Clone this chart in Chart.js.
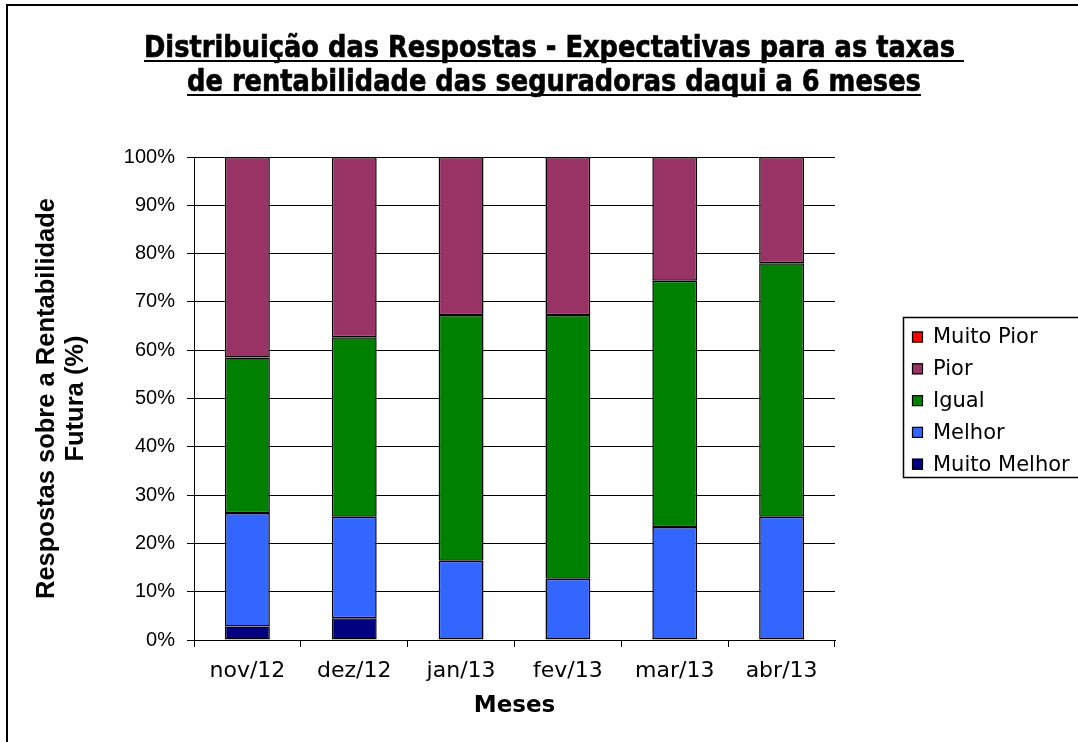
<!DOCTYPE html>
<html lang="pt">
<head>
<meta charset="UTF-8">
<title>Expectativas de rentabilidade</title>
<script src="https://cdn.jsdelivr.net/npm/chart.js"></script>
<style>
    body { margin: 0; background: #fff; }
    #grafico { display: block; }
</style>
</head>
<body>
<canvas id="grafico" width="1078" height="742"></canvas>
<script>
    // dados (% das respostas)
    var meses = ['nov/12', 'dez/12', 'jan/13', 'fev/13', 'mar/13', 'abr/13'];
    var muitoMelhor = [2.8, 4.5, 0, 0, 0, 0];
    var melhor = [23.5, 21.0, 16.4, 12.7, 23.4, 25.5];
    var igual = [32.2, 37.2, 50.9, 54.6, 51.0, 52.5];
    var pior = [41.5, 37.3, 32.7, 32.7, 25.6, 22.0];
    var muitoPior = [0, 0, 0, 0, 0, 0];

    var titulo = ['Distribuição das Respostas - Expectativas para as taxas ',
                  'de rentabilidade das seguradoras daqui a 6 meses'];
    var tituloY = ['Respostas sobre a Rentabilidade', 'Futura (%)'];
    var tituloX = 'Meses';

    // moldura, titulo sublinhado e legenda
    var extras = {
        id: 'extras',
        afterDraw: function(chart) {
            var ctx = chart.ctx;
            ctx.save();

            ctx.strokeStyle = '#000';
            ctx.lineWidth = 2;
            ctx.strokeRect(7, 5, 1200, 1000);

            ctx.fillStyle = '#000';
            ctx.font = 'bold 31px "DejaVu Sans"';
            ctx.textBaseline = 'alphabetic';
            var sx = 820 / ctx.measureText(titulo[0]).width;
            var baseY = [57, 91];
            titulo.forEach(function(linha, i) {
                var w = ctx.measureText(linha).width * sx;
                var x0 = 554 - w / 2;
                ctx.save();
                ctx.translate(x0, baseY[i]);
                ctx.scale(sx, 1);
                ctx.fillText(linha, 0, 0);
                ctx.lineWidth = 0.7;
                ctx.strokeText(linha, 0, 0);
                ctx.restore();
                ctx.fillRect(x0, baseY[i] + 3, w, 2);
            });

            // legenda (ordem inversa das series)
            ctx.lineWidth = 1.5;
            ctx.strokeRect(903.5, 317.5, 200, 160);
            ctx.font = '21px "DejaVu Sans"';
            ctx.textBaseline = 'middle';
            var ds = chart.data.datasets.slice().reverse();
            ds.forEach(function(d, i) {
                var y = 337 + i * 31.8;
                ctx.fillStyle = d.backgroundColor;
                ctx.fillRect(912, y - 5.5, 11, 11);
                ctx.lineWidth = 1.2;
                ctx.strokeRect(912.5, y - 5, 10, 10);
                ctx.fillStyle = '#000';
                ctx.fillText(d.label, 933, y + 1);
            });
            ctx.restore();
        }
    };

    function serie(nome, valores, cor) {
        return {
            label: nome,
            data: valores,
            backgroundColor: cor,
            borderColor: '#000',
            borderWidth: 1.5,
            borderSkipped: false,
            barPercentage: 0.42,
            categoryPercentage: 1
        };
    }

    new Chart(document.getElementById('grafico'), {
        type: 'bar',
        data: {
            labels: meses,
            datasets: [
                serie('Muito Melhor', muitoMelhor, '#000080'),
                serie('Melhor', melhor, '#3366FF'),
                serie('Igual', igual, '#008000'),
                serie('Pior', pior, '#993366'),
                serie('Muito Pior', muitoPior, '#FF0000')
            ]
        },
        options: {
            responsive: false,
            animation: false,
            layout: { padding: { top: 157, right: 243, left: 0, bottom: 0 } },
            plugins: {
                legend: { display: false },
                title: { display: false },
                tooltip: { enabled: false }
            },
            scales: {
                x: {
                    stacked: true,
                    afterFit: function(s) { s.height = 102; },
                    grid: { offset: true, drawOnChartArea: false, drawTicks: true, tickLength: 7, color: '#000' },
                    border: { display: true, color: '#000', width: 1 },
                    ticks: { color: '#000', padding: 11, font: { family: 'DejaVu Sans', size: 22 } },
                    title: {
                        display: true, text: tituloX, color: '#000',
                        font: { family: 'DejaVu Sans', size: 23, weight: 'bold' },
                        padding: { top: 0, bottom: 22 }
                    }
                },
                y: {
                    stacked: true,
                    min: 0,
                    max: 100,
                    afterFit: function(s) { s.width = 194; },
                    grid: { color: '#000', tickLength: 7, drawTicks: true },
                    border: { display: true, color: '#000', width: 1 },
                    ticks: {
                        stepSize: 10, color: '#000', padding: 12,
                        font: { family: 'Liberation Sans', size: 20 },
                        callback: function(v) { return v + '%'; }
                    },
                    title: {
                        display: true, text: tituloY, color: '#000',
                        font: { family: 'Liberation Sans', size: 25.5, weight: 'bold', lineHeight: 1.15 },
                        padding: { top: 32, bottom: 0 }
                    }
                }
            }
        },
        plugins: [extras]
    });
</script>
</body>
</html>
